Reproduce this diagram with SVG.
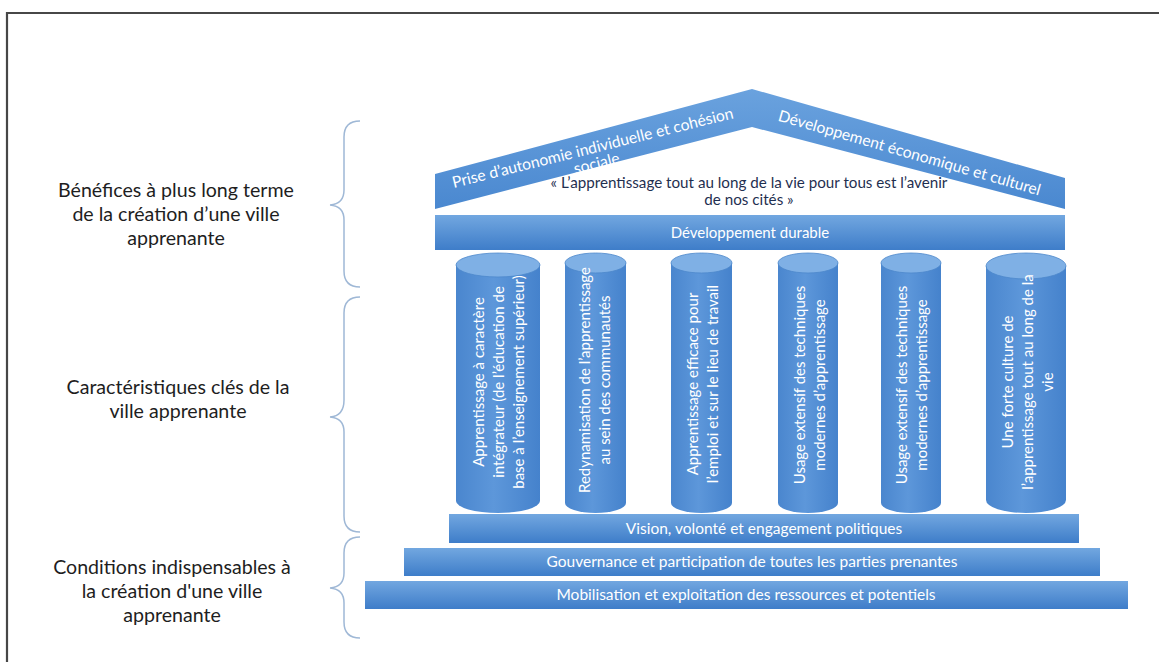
<svg xmlns="http://www.w3.org/2000/svg" width="1159" height="662" viewBox="0 0 1159 662">
<defs>
<linearGradient id="barG" x1="0" y1="0" x2="0" y2="1">
<stop offset="0" stop-color="#72a7e0"/>
<stop offset="1" stop-color="#3e7dc9"/>
</linearGradient>
<linearGradient id="roofG" gradientUnits="userSpaceOnUse" x1="0" y1="89" x2="0" y2="209">
<stop offset="0" stop-color="#6aa2de"/>
<stop offset="1" stop-color="#4a88d0"/>
</linearGradient>
<linearGradient id="cylG" x1="0" y1="0" x2="1" y2="0">
<stop offset="0" stop-color="#4a86ce"/>
<stop offset="0.45" stop-color="#5d97da"/>
<stop offset="1" stop-color="#4582cc"/>
</linearGradient>
<style>
.lbl{font-family:Lato,"Liberation Sans",sans-serif;font-size:19.6px;fill:#1e1e1e;text-anchor:middle}
.wt{font-family:Lato,"Liberation Sans",sans-serif;font-size:15px;fill:#ffffff;text-anchor:middle}
.bt{font-family:Lato,"Liberation Sans",sans-serif;font-size:15.5px;fill:#ffffff;text-anchor:middle}
.rt{font-family:Lato,"Liberation Sans",sans-serif;font-size:15.7px;fill:#ffffff;text-anchor:middle}
.qt{font-family:Lato,"Liberation Sans",sans-serif;font-size:15.2px;fill:#1f2f50;text-anchor:middle}
.bar{fill:url(#barG)}
.body{fill:url(#cylG)}
.top{fill:#7fb0e5;stroke:#4d88cc;stroke-width:0.8}
.brace{fill:none;stroke:#9fb8d6;stroke-width:1.5}
</style>
</defs>
<rect x="0" y="0" width="1159" height="662" fill="#ffffff"/>
<path d="M7,662 V13 H1159" fill="none" stroke="#474747" stroke-width="2.2"/>

<g id="braces">
<path class="brace" d="M360,121 Q344,121 344,137 V190 Q344,204 330,205 Q344,206 344,220 V271 Q344,287 360,287"/>
<path class="brace" d="M360,297 Q344,297 344,313 V400 Q344,416 330,417 Q344,418 344,432 V516 Q344,532 360,532"/>
<path class="brace" d="M360,537 Q344,537 344,553 V573 Q344,587 330,588 Q344,589 344,603 V622 Q344,638 360,638"/>
</g>

<g id="label-benefices">
<text class="lbl" x="176" y="197">Bénéfices à plus long terme</text>
<text class="lbl" x="176" y="221">de la création d’une ville</text>
<text class="lbl" x="176" y="245">apprenante</text>
</g>
<g id="label-caracteristiques">
<text class="lbl" x="178" y="394">Caractéristiques clés de la</text>
<text class="lbl" x="178" y="418">ville apprenante</text>
</g>
<g id="label-conditions">
<text class="lbl" x="172" y="574">Conditions indispensables à</text>
<text class="lbl" x="172" y="598">la création d'une ville</text>
<text class="lbl" x="172" y="622">apprenante</text>
</g>

<g id="roof">
<polygon points="435,174 752,89 1065,178 1065,209 752,127 435,209" fill="url(#roofG)"/>
<g transform="translate(594,153) rotate(-14)">
<text class="rt" x="0" y="0">Prise d’autonomie individuelle et cohésion</text>
<text class="rt" x="0" y="16">sociale</text>
</g>
<g transform="translate(908,158) rotate(16)">
<text class="rt" x="0" y="0">Développement économique et culturel</text>
</g>
<text class="qt" x="749" y="188">« L’apprentissage tout au long de la vie pour tous est l’avenir</text>
<text class="qt" x="749" y="205">de nos cités »</text>
</g>

<g id="bar-developpement">
<rect class="bar" x="435" y="215" width="630" height="35"/>
<text class="wt" x="750" y="238">Développement durable</text>
</g>

<g id="pillar-1">
<rect class="body" x="456" y="265" width="84" height="236"/>
<ellipse class="body" cx="498" cy="501" rx="42" ry="12"/>
<ellipse class="top" cx="498" cy="265" rx="42" ry="12"/>
<g transform="translate(499,382) rotate(-90)">
<text class="wt" x="0" y="-15">Apprentissage à caractère</text>
<text class="wt" x="0" y="5">intégrateur (de l’éducation de</text>
<text class="wt" x="0" y="25">base à l’enseignement supérieur)</text>
</g>
</g>
<g id="pillar-2">
<rect class="body" x="565" y="263" width="61" height="240"/>
<ellipse class="body" cx="595.5" cy="503" rx="30.5" ry="10"/>
<ellipse class="top" cx="595.5" cy="263" rx="30.5" ry="10"/>
<g transform="translate(595,380) rotate(-90)">
<text class="wt" x="0" y="-5">Redynamisation de l’apprentissage</text>
<text class="wt" x="0" y="15">au sein des communautés</text>
</g>
</g>
<g id="pillar-3">
<rect class="body" x="671" y="263" width="61" height="240"/>
<ellipse class="body" cx="701.5" cy="503" rx="30.5" ry="10"/>
<ellipse class="top" cx="701.5" cy="263" rx="30.5" ry="10"/>
<g transform="translate(703,384) rotate(-90)">
<text class="wt" x="0" y="-5">Apprentissage efficace pour</text>
<text class="wt" x="0" y="15">l’emploi et sur le lieu de travail</text>
</g>
</g>
<g id="pillar-4">
<rect class="body" x="778" y="263" width="60" height="240"/>
<ellipse class="body" cx="808" cy="503" rx="30" ry="10"/>
<ellipse class="top" cx="808" cy="263" rx="30" ry="10"/>
<g transform="translate(810,385) rotate(-90)">
<text class="wt" x="0" y="-5">Usage extensif des techniques</text>
<text class="wt" x="0" y="15">modernes d’apprentissage</text>
</g>
</g>
<g id="pillar-5">
<rect class="body" x="881" y="263" width="60" height="240"/>
<ellipse class="body" cx="911" cy="503" rx="30" ry="10"/>
<ellipse class="top" cx="911" cy="263" rx="30" ry="10"/>
<g transform="translate(912,385) rotate(-90)">
<text class="wt" x="0" y="-5">Usage extensif des techniques</text>
<text class="wt" x="0" y="15">modernes d’apprentissage</text>
</g>
</g>
<g id="pillar-6">
<rect class="body" x="986" y="266" width="80" height="234"/>
<ellipse class="body" cx="1026" cy="500" rx="40" ry="13"/>
<ellipse class="top" cx="1026" cy="266" rx="40" ry="13"/>
<g transform="translate(1028,382) rotate(-90)">
<text class="wt" x="0" y="-15">Une forte culture de</text>
<text class="wt" x="0" y="5">l’apprentissage tout au long de la</text>
<text class="wt" x="0" y="25">vie</text>
</g>
</g>

<g id="bar-vision">
<rect class="bar" x="449" y="514" width="630" height="29"/>
<text class="bt" x="764" y="534">Vision, volonté et engagement politiques</text>
</g>
<g id="bar-gouvernance">
<rect class="bar" x="404" y="548" width="696" height="28"/>
<text class="bt" x="752" y="567">Gouvernance et participation de toutes les parties prenantes</text>
</g>
<g id="bar-mobilisation">
<rect class="bar" x="365" y="581" width="763" height="28"/>
<text class="bt" x="746" y="600">Mobilisation et exploitation des ressources et potentiels</text>
</g>
<g id="connectors"/>
</svg>
